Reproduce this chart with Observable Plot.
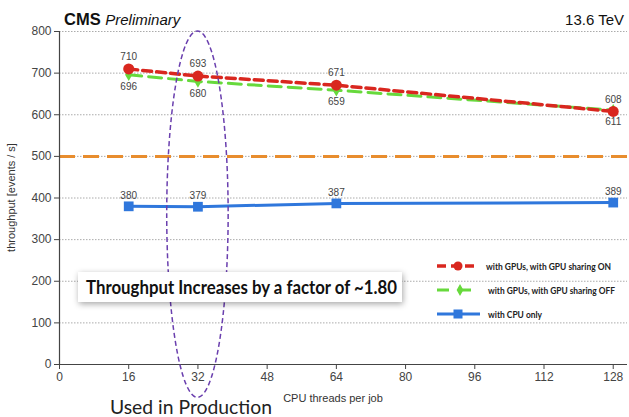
<!DOCTYPE html>
<html>
<head>
<meta charset="utf-8">
<script src="https://cdn.jsdelivr.net/npm/d3@7"></script>
<script src="https://cdn.jsdelivr.net/npm/@observablehq/plot@0.6"></script>
<style>
  body { margin: 0; background: #fff; }
  #chart { width: 629px; height: 417px; }
</style>
</head>
<body>
<div id="chart"></div>
<script>
// Throughput vs CPU threads per job
const threads = [16, 32, 64, 128];
const sharingOn = [710, 693, 671, 608];
const sharingOff = [696, 680, 659, 611];
const cpuOnly = [380, 379, 387, 389];
const seriesNames = [
  "with GPUs, with GPU sharing ON",
  "with GPUs, with GPU sharing OFF",
  "with CPU only"
];
const yTicks = [0, 100, 200, 300, 400, 500, 600, 700, 800];
const xTicks = [0, 16, 32, 48, 64, 80, 96, 112, 128];
const referenceRate = 500;
const productionThreads = 32;
const speedupNote = "Throughput Increases by a factor of ~1.80";
const productionNote = "Used in Production";

const colors = { on: "#d9271f", off: "#67d93c", cpu: "#2f77dc" };

const rows = (vals, name) => threads.map((t, i) => ({ threads: t, rate: vals[i], series: name }));
const onRows = rows(sharingOn, seriesNames[0]);
const offRows = rows(sharingOff, seriesNames[1]);
const cpuRows = rows(cpuOnly, seriesNames[2]);

const sans = "'Liberation Sans', Arial, sans-serif";
const calib = "Lato, 'Open Sans', sans-serif";

// Ellipse highlighting the production thread count (thread units / rate units)
const ellipseHalfWidth = 7.1;
const ellipseTop = 800;
const ellipseBottom = -80;

function annotations(index, { x, y }, values, dims) {
  const g = d3.create("svg:g").attr("text-anchor", "start");

  // dashed ellipse around the 32-thread point
  const cx = x(productionThreads);
  const top = y(ellipseTop), bottom = y(ellipseBottom);
  g.append("ellipse")
    .attr("cx", cx).attr("cy", (top + bottom) / 2)
    .attr("rx", x(productionThreads + ellipseHalfWidth) - cx)
    .attr("ry", (bottom - top) / 2)
    .attr("fill", "none").attr("stroke", "#6a3fae")
    .attr("stroke-width", 1.5).attr("stroke-dasharray", "5,3");

  // callout box
  const box = g.append("g");
  box.append("rect")
    .attr("x", 78).attr("y", 272).attr("width", 324).attr("height", 30)
    .attr("fill", "#fff")
    .style("filter", "drop-shadow(1px 2px 3px rgba(0,0,0,0.35))");
  box.append("text")
    .attr("x", 86).attr("y", 293.5).attr("text-anchor", "start")
    .attr("font-family", calib).attr("font-weight", "bold").attr("font-size", 18)
    .attr("textLength", 311).attr("lengthAdjust", "spacingAndGlyphs")
    .attr("fill", "#111").text(speedupNote);

  g.append("text")
    .attr("x", 110).attr("y", 414).attr("text-anchor", "start")
    .attr("font-family", calib).attr("font-size", 19)
    .attr("textLength", 162).attr("lengthAdjust", "spacingAndGlyphs")
    .attr("fill", "#222").text(productionNote);

  // legend
  const legend = [
    { name: seriesNames[0], color: colors.on, dash: "9,5", width: 3.5, y: 266, x2: 475, mx: 458, tx: 486, tl: 125, sym: "circle" },
    { name: seriesNames[1], color: colors.off, dash: "12,10", width: 3, y: 290, x2: 479, mx: 460, tx: 488, tl: 127, sym: "diamond" },
    { name: seriesNames[2], color: colors.cpu, dash: null, width: 3, y: 314, x2: 480, mx: 458, tx: 488, tl: 54, sym: "square" }
  ];
  for (const l of legend) {
    g.append("line").attr("x1", 437).attr("x2", l.x2).attr("y1", l.y).attr("y2", l.y)
      .attr("stroke", l.color).attr("stroke-width", l.width)
      .attr("stroke-dasharray", l.dash);
    if (l.sym === "circle") g.append("circle").attr("cx", l.mx).attr("cy", l.y).attr("r", 4.5).attr("fill", l.color);
    else if (l.sym === "square") g.append("rect").attr("x", l.mx - 4.5).attr("y", l.y - 4.5).attr("width", 9).attr("height", 9).attr("fill", l.color);
    else g.append("path").attr("d", d3.symbol(d3.symbolDiamond, 40)()).attr("transform", `translate(${l.mx},${l.y})`).attr("fill", l.color);
    g.append("text").attr("x", l.tx).attr("y", l.y + 3.5).attr("text-anchor", "start")
      .attr("font-family", calib).attr("font-weight", "bold").attr("font-size", 8.8)
      .attr("textLength", l.tl).attr("lengthAdjust", "spacingAndGlyphs")
      .attr("fill", "#222").text(l.name);
  }

  // header
  const head = g.append("text").attr("x", 64).attr("y", 25).attr("text-anchor", "start")
    .attr("font-family", sans).attr("fill", "#111");
  head.append("tspan").attr("font-weight", "bold").attr("font-size", 16.5).text("CMS ");
  head.append("tspan").attr("font-style", "italic").attr("font-size", 15).text("Preliminary");
  g.append("text").attr("x", 624).attr("y", 25).attr("text-anchor", "end")
    .attr("font-family", sans).attr("font-size", 15).attr("fill", "#111").text("13.6 TeV");

  // axis titles
  g.append("text").attr("transform", `translate(15,${(y(0) + y(800)) / 2}) rotate(-90)`)
    .attr("text-anchor", "middle").attr("font-family", sans).attr("font-size", 11)
    .attr("fill", "#333").text("throughput [events / s]");
  g.append("text").attr("x", 333).attr("y", 402).attr("text-anchor", "middle")
    .attr("font-family", sans).attr("font-size", 11).attr("fill", "#333")
    .text("CPU threads per job");

  return g.node();
}

const plot = Plot.plot({
  width: 629,
  height: 417,
  marginLeft: 59,
  marginRight: 2,
  marginTop: 31,
  marginBottom: 53,
  style: { fontFamily: sans, fontSize: "12px", color: "#444", background: "#fff" },
  x: { domain: [0, 131.3] },
  y: { domain: [0, 800] },
  marks: [
    Plot.gridY(yTicks, { stroke: "#888", strokeOpacity: 0.7, strokeDasharray: "1.5,1.5" }),
    Plot.ruleY([referenceRate], { stroke: "#e88d2e", strokeWidth: 3, strokeDasharray: "16,8" }),
    Plot.ruleX([0], { stroke: "#444", strokeWidth: 1.2 }),
    Plot.ruleY([0], { stroke: "#444", strokeWidth: 1.2 }),
    Plot.axisY(yTicks, { tickSize: 5, tickPadding: 3, label: null, stroke: "#444" }),
    Plot.axisX(xTicks, { tickSize: 5, tickPadding: 3, label: null, stroke: "#444" }),

    Plot.line(cpuRows, { x: "threads", y: "rate", stroke: colors.cpu, strokeWidth: 3 }),
    Plot.line(offRows, { x: "threads", y: "rate", stroke: colors.off, strokeWidth: 3, strokeDasharray: "13,7" }),
    Plot.line(onRows, { x: "threads", y: "rate", stroke: colors.on, strokeWidth: 3.5, strokeDasharray: "9,5" }),

    Plot.dot(cpuRows, { x: "threads", y: "rate", symbol: "square", r: 5.5, fill: colors.cpu }),
    Plot.dot(offRows, { x: "threads", y: "rate", symbol: "diamond", r: 3.8, fill: colors.off }),
    Plot.dot(onRows, { x: "threads", y: "rate", r: 5.5, fill: colors.on }),

    Plot.text(onRows, { x: "threads", y: "rate", text: "rate", dy: -12, fontSize: 10, fill: "#444" }),
    Plot.text(offRows, { x: "threads", y: "rate", text: "rate", dy: 12, fontSize: 10, fill: "#444" }),
    Plot.text(cpuRows, { x: "threads", y: "rate", text: "rate", dy: -11, fontSize: 10, fill: "#444" }),

    annotations
  ]
});

document.getElementById("chart").appendChild(plot);
</script>
</body>
</html>
